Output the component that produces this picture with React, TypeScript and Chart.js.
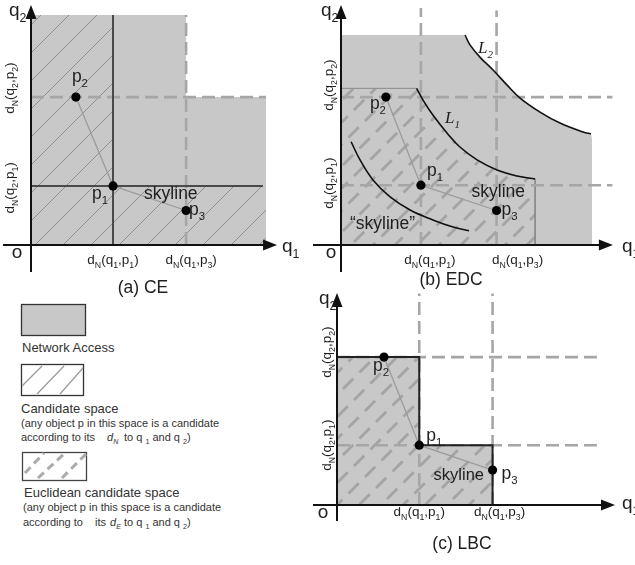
import React, { useEffect, useRef } from 'react';
import { Chart, registerables } from 'chart.js';

Chart.register(...registerables);

const SANS = '"Liberation Sans", Arial, Helvetica, sans-serif';
const SERIF = '"Liberation Serif", "Times New Roman", serif';

// ---------- data (diagram units) ----------
const POINT_NAMES = ['p_1', 'p_2', 'p_3'];
// (a) CE
const CE_X = [3.49, 1.91, 6.6];
const CE_Y = [2.57, 6.43, 1.5];
const CE_REGION = [10, 10];
// (b) EDC
const EDC_X = [3.4, 1.91, 6.62];
const EDC_Y = [2.6, 6.43, 1.5];
const EDC_REGION = [10.68, 9.13];
const EDC_L2_X = [5.28, 5.49, 5.91, 6.47, 7.06, 7.62, 8.47, 9.32, 10.3, 10.64];
const EDC_L2_Y = [9.13, 8.7, 8.17, 7.61, 6.96, 6.39, 5.78, 5.3, 4.91, 4.83];
const EDC_L1_X = [3.22, 3.49, 3.91, 4.51, 5.06, 5.79, 6.64, 7.49, 8.26];
const EDC_L1_Y = [6.81, 6.3, 5.65, 4.87, 4.26, 3.7, 3.26, 3.0, 2.87];
const EDC_SKY_X = [0.43, 0.81, 1.36, 2.09, 2.94, 3.91, 4.77, 5.45];
const EDC_SKY_Y = [4.49, 3.7, 2.83, 2.09, 1.52, 1.09, 0.78, 0.62];
// (c) LBC
const LBC_X = [3.5, 2.0, 6.62];
const LBC_Y = [2.6, 6.43, 1.52];

const X_TICKS = ['d_N(q_1,p_1)', 'd_N(q_1,p_3)'];
const Y_TICKS = ['d_N(q_2,p_1)', 'd_N(q_2,p_2)'];
const CAPTIONS = ['(a) CE', '(b) EDC', '(c) LBC'];
const CURVE_NAMES = ['L_1', 'L_2'];
const SKY_TEXT = ['skyline', '\u201cskyline\u201d'];
const LEGEND_TITLES = ['Network Access', 'Candidate space', 'Euclidean candidate space'];

// ---------- styles ----------
const GRAY = '#c8c8c8';
const DASHC = '#a6a6a6';
const DASH = [13, 6];
const TXT = '#1e1e1e';
const TICK = 13.5;

type Run = { t: string; sub: boolean };
function parse(s: string): Run[] {
  const out: Run[] = [];
  let buf = '';
  for (let i = 0; i < s.length; i++) {
    if (s[i] === '_' && i + 1 < s.length) {
      if (buf) { out.push({ t: buf, sub: false }); buf = ''; }
      out.push({ t: s[i + 1], sub: true });
      i++;
    } else buf += s[i];
  }
  if (buf) out.push({ t: buf, sub: false });
  return out;
}

interface Lbl {
  s: string; x: number; y: number; dx: number; dy: number; size: number;
  align?: 'left' | 'center'; rot?: boolean; it?: boolean; serif?: boolean;
}

function drawLbl(chart: any, L: Lbl) {
  const ctx: CanvasRenderingContext2D = chart.ctx;
  const px = chart.scales.x.getPixelForValue(L.x) + L.dx;
  const py = chart.scales.y.getPixelForValue(L.y) + L.dy;
  const fam = L.serif ? SERIF : SANS;
  const font = (sz: number) => `${L.it ? 'italic ' : ''}${sz}px ${fam}`;
  const runs = parse(L.s);
  const subSize = L.size * 0.65;
  ctx.save();
  ctx.translate(px, py);
  if (L.rot) ctx.rotate(-Math.PI / 2);
  ctx.fillStyle = TXT;
  ctx.textBaseline = 'alphabetic';
  ctx.textAlign = 'left';
  let total = 0;
  const widths = runs.map((r) => {
    ctx.font = font(r.sub ? subSize : L.size);
    const w = ctx.measureText(r.t).width;
    total += w;
    return w;
  });
  let cx = (L.align ?? 'left') === 'center' ? -total / 2 : 0;
  runs.forEach((r, i) => {
    ctx.font = font(r.sub ? subSize : L.size);
    ctx.fillText(r.t, cx, r.sub ? L.size * 0.3 : 0);
    cx += widths[i];
  });
  ctx.restore();
}

interface Decor { xEnd: number; yEnd: number; xBack: number; yBack: number; labels: Lbl[] }

function decorPlugin(cfg: Decor) {
  return {
    id: 'decor',
    afterDatasetsDraw(chart: any) {
      const ctx: CanvasRenderingContext2D = chart.ctx;
      const xs = chart.scales.x, ys = chart.scales.y;
      const ox = xs.getPixelForValue(0), oy = ys.getPixelForValue(0);
      const ex = xs.getPixelForValue(cfg.xEnd), ey = ys.getPixelForValue(cfg.yEnd);
      ctx.save();
      ctx.strokeStyle = '#111';
      ctx.fillStyle = '#111';
      ctx.lineWidth = 2;
      ctx.setLineDash([]);
      ctx.beginPath(); ctx.moveTo(ox - cfg.xBack, oy); ctx.lineTo(ex - 10, oy); ctx.stroke();
      ctx.beginPath(); ctx.moveTo(ox, oy + cfg.yBack); ctx.lineTo(ox, ey + 10); ctx.stroke();
      ctx.beginPath(); ctx.moveTo(ex, oy); ctx.lineTo(ex - 14, oy - 5.5); ctx.lineTo(ex - 14, oy + 5.5); ctx.closePath(); ctx.fill();
      ctx.beginPath(); ctx.moveTo(ox, ey); ctx.lineTo(ox - 5.5, ey + 14); ctx.lineTo(ox + 5.5, ey + 14); ctx.closePath(); ctx.fill();
      ctx.restore();
      cfg.labels.forEach((l) => drawLbl(chart, l));
    },
  };
}

function hatchSolid(): CanvasPattern {
  const S = 28;
  const c = document.createElement('canvas');
  c.width = S; c.height = S;
  const g = c.getContext('2d')!;
  g.strokeStyle = '#8f8f8f';
  g.lineWidth = 1;
  for (const k of [-S, 0, S, 2 * S]) {
    g.beginPath(); g.moveTo(k + 10, -10); g.lineTo(k - S - 10, S + 10); g.stroke();
  }
  return g.createPattern(c, 'repeat')!;
}

function hatchDashed(): CanvasPattern {
  const S = 66, step = 22;
  const P = S / Math.SQRT2 / 2;
  const c = document.createElement('canvas');
  c.width = S; c.height = S;
  const g = c.getContext('2d')!;
  g.strokeStyle = '#a4a4a4';
  g.lineWidth = 2.8;
  g.lineCap = 'butt';
  g.setLineDash([P * 0.62, P * 0.38]);
  for (let k = -S; k <= 2 * S; k += step) {
    const x0 = k - S - 10, y0 = S + 10;
    const t = (x0 - y0) / Math.SQRT2;
    g.lineDashOffset = ((t % P) + P) % P;
    g.beginPath(); g.moveTo(x0, y0); g.lineTo(k + 10, -10); g.stroke();
  }
  return g.createPattern(c, 'repeat')!;
}

const pts = (xs: number[], ys: number[]) => xs.map((x, i) => ({ x, y: ys[i] }));
const seg = (x0: number, y0: number, x1: number, y1: number) => [{ x: x0, y: y0 }, { x: x1, y: y1 }];
function ds(data: any[], o: any = {}) {
  return {
    data, pointRadius: 0, borderWidth: 0, borderColor: 'rgba(0,0,0,0)',
    backgroundColor: 'rgba(0,0,0,0)', fill: false, tension: 0, clip: false, ...o,
  };
}
const dashed = (data: any[]) => ds(data, { borderColor: DASHC, borderWidth: 2.6, borderDash: DASH, order: 8 });
const pointsDs = (xs: number[], ys: number[]) =>
  ds(pts(xs, ys), { showLine: false, pointRadius: 4.6, pointBackgroundColor: '#000', pointBorderWidth: 0, order: 1 });
const skyPath = (xs: number[], ys: number[]) =>
  ds(pts([xs[1], xs[0], xs[2]], [ys[1], ys[0], ys[2]]), { borderColor: '#9c9c9c', borderWidth: 1.3, order: 3 });

function makeConfig(datasets: any[], xMax: number, yMax: number, padding: any, decor: Decor) {
  return {
    type: 'line',
    data: { datasets },
    options: {
      responsive: false, animation: false, events: [],
      layout: { padding },
      plugins: { legend: { display: false }, tooltip: { enabled: false }, title: { display: false } },
      scales: {
        x: { type: 'linear', display: false, min: 0, max: xMax },
        y: { type: 'linear', display: false, min: 0, max: yMax },
      },
    },
    plugins: [decorPlugin(decor)],
  } as any;
}

const pLabel = (i: number, xs: number[], ys: number[], dx: number, dy: number): Lbl =>
  ({ s: POINT_NAMES[i], x: xs[i], y: ys[i], dx, dy, size: 17.5 });

function buildCE() {
  const [R0, R1] = CE_REGION;
  const X = CE_X, Y = CE_Y;
  const datasets = [
    ds([{ x: 0, y: R1 }, { x: X[2], y: R1 }, { x: X[2], y: Y[1] }, { x: R0, y: Y[1] }, { x: R0, y: 0 }],
      { fill: 'origin', backgroundColor: GRAY, order: 10 }),
    ds([{ x: 0, y: R1 }, { x: X[0], y: R1 }, { x: X[0], y: Y[0] }, { x: R0, y: Y[0] }, { x: R0, y: 0 }],
      { fill: 'origin', backgroundColor: hatchSolid(), order: 9 }),
    dashed(seg(0, Y[1], R0, Y[1])),
    dashed(seg(X[2], 0, X[2], R1)),
    ds(seg(X[0], 0, X[0], R1), { borderColor: '#4a4a4a', borderWidth: 2, order: 7 }),
    ds(seg(0, Y[0], R0 - 0.13, Y[0]), { borderColor: '#4a4a4a', borderWidth: 2, order: 7 }),
    skyPath(X, Y),
    pointsDs(X, Y),
  ];
  const labels: Lbl[] = [
    { s: 'o', x: 0, y: 0, dx: -14, dy: 13, size: 19, align: 'center' },
    { s: 'q_2', x: 0, y: 0, dx: -22, dy: -229, size: 19 },
    { s: 'q_1', x: 0, y: 0, dx: 251, dy: 7, size: 19 },
    { s: X_TICKS[0], x: X[0], y: 0, dx: 0, dy: 19, size: TICK, align: 'center' },
    { s: X_TICKS[1], x: X[2], y: 0, dx: 5, dy: 19, size: TICK, align: 'center' },
    { s: Y_TICKS[1], x: 0, y: Y[1], dx: -17, dy: -9, size: TICK, align: 'center', rot: true },
    { s: Y_TICKS[0], x: 0, y: Y[0], dx: -17, dy: 2, size: TICK, align: 'center', rot: true },
    pLabel(1, X, Y, -4, -15),
    pLabel(0, X, Y, -21, 13),
    pLabel(2, X, Y, 3, 4),
    { s: SKY_TEXT[0], x: X[2], y: Y[2], dx: -42, dy: -12, size: 17.5 },
    { s: CAPTIONS[0], x: 0, y: 0, dx: 112, dy: 48, size: 17.5, align: 'center' },
  ];
  return makeConfig(datasets, 10, 10, { left: 31, right: 52, top: 15, bottom: 55 },
    { xEnd: 10.47, yEnd: 10.43, xBack: 28, yBack: 27, labels });
}

function buildEDC() {
  const [R0, R1] = EDC_REGION;
  const X = EDC_X, Y = EDC_Y;
  const l2 = pts(EDC_L2_X, EDC_L2_Y);
  const l1 = pts(EDC_L1_X, EDC_L1_Y);
  const grayPoly = [{ x: 0, y: R1 }, ...l2, { x: R0, y: EDC_L2_Y[EDC_L2_Y.length - 1] - 0.2 }, { x: R0, y: 0 }];
  const hatchPoly = [{ x: 0, y: EDC_L1_Y[0] }, ...l1, { x: EDC_L1_X[EDC_L1_X.length - 1], y: 0 }];
  const datasets = [
    ds(grayPoly, { fill: 'origin', backgroundColor: GRAY, order: 10 }),
    ds(hatchPoly, { fill: 'origin', backgroundColor: hatchDashed(), borderColor: '#8a8a8a', borderWidth: 1, order: 9 }),
    dashed(seg(0, Y[1], 11.55, Y[1])),
    dashed(seg(0, Y[0], 11.55, Y[0])),
    dashed(seg(X[0], 0, X[0], 10.3)),
    dashed(seg(X[2], 0, X[2], 10.2)),
    ds(l2, { borderColor: '#111', borderWidth: 1.6, tension: 0.4, order: 5 }),
    ds(l1, { borderColor: '#111', borderWidth: 1.6, tension: 0.4, order: 5 }),
    ds(pts(EDC_SKY_X, EDC_SKY_Y), { borderColor: '#111', borderWidth: 1.6, tension: 0.4, order: 5 }),
    skyPath(X, Y),
    pointsDs(X, Y),
  ];
  const labels: Lbl[] = [
    { s: 'o', x: 0, y: 0, dx: -10, dy: 13, size: 19, align: 'center' },
    { s: 'q_2', x: 0, y: 0, dx: -20, dy: -229, size: 19 },
    { s: 'q_1', x: 0, y: 0, dx: 281, dy: 7, size: 19 },
    { s: X_TICKS[0], x: X[0], y: 0, dx: 9, dy: 19, size: TICK, align: 'center' },
    { s: X_TICKS[1], x: X[2], y: 0, dx: 21, dy: 19, size: TICK, align: 'center' },
    { s: Y_TICKS[1], x: 0, y: Y[1], dx: -8, dy: -12, size: TICK, align: 'center', rot: true },
    { s: Y_TICKS[0], x: 0, y: Y[0], dx: -8, dy: -2, size: TICK, align: 'center', rot: true },
    pLabel(1, X, Y, -16, 12),
    pLabel(0, X, Y, 6, -9),
    pLabel(2, X, Y, 5, 4),
    { s: SKY_TEXT[0], x: X[2], y: Y[2], dx: -25, dy: -14, size: 17.5 },
    { s: SKY_TEXT[1], x: 0, y: 0, dx: 9, dy: -16, size: 17.5 },
    { s: CURVE_NAMES[0], x: 0, y: 0, dx: 104, dy: -122, size: 17, it: true, serif: true },
    { s: CURVE_NAMES[1], x: 0, y: 0, dx: 137, dy: -192, size: 17, it: true, serif: true },
    { s: CAPTIONS[1], x: 0, y: 0, dx: 110, dy: 40, size: 17.5, align: 'center' },
  ];
  return makeConfig(datasets, 11, 10, { left: 31, right: 35.5, top: 15, bottom: 55 },
    { xEnd: 11.57, yEnd: 10.43, xBack: 28, yBack: 27, labels });
}

function buildLBC() {
  const X = LBC_X, Y = LBC_Y;
  const poly = [{ x: 0, y: Y[1] }, { x: X[0], y: Y[1] }, { x: X[0], y: Y[0] }, { x: X[2], y: Y[0] }, { x: X[2], y: 0 }];
  const datasets = [
    ds(poly, { fill: 'origin', backgroundColor: GRAY, order: 10 }),
    ds(poly, { fill: 'origin', backgroundColor: hatchDashed(), order: 9 }),
    dashed(seg(0, Y[1], 11.06, Y[1])),
    dashed(seg(0, Y[0], 11.06, Y[0])),
    dashed(seg(X[0], 0, X[0], 9.2)),
    dashed(seg(X[2], 0, X[2], 9.2)),
    ds(poly, { borderColor: '#222', borderWidth: 2, order: 6 }),
    skyPath(X, Y),
    pointsDs(X, Y),
  ];
  const labels: Lbl[] = [
    { s: 'o', x: 0, y: 0, dx: -14, dy: 13, size: 19, align: 'center' },
    { s: 'q_2', x: 0, y: 0, dx: -18, dy: -201, size: 19 },
    { s: 'q_1', x: 0, y: 0, dx: 285, dy: 4, size: 19 },
    { s: X_TICKS[0], x: X[0], y: 0, dx: 0, dy: 11, size: TICK, align: 'center' },
    { s: X_TICKS[1], x: X[2], y: 0, dx: 7, dy: 11, size: TICK, align: 'center' },
    { s: Y_TICKS[1], x: 0, y: Y[1], dx: -6, dy: -5, size: TICK, align: 'center', rot: true },
    { s: Y_TICKS[0], x: 0, y: Y[0], dx: -6, dy: 0, size: TICK, align: 'center', rot: true },
    pLabel(1, X, Y, -11, 14),
    pLabel(0, X, Y, 7, -4),
    pLabel(2, X, Y, 9, 9),
    { s: SKY_TEXT[0], x: X[2], y: Y[2], dx: -59, dy: 10, size: 16.5 },
    { s: CAPTIONS[2], x: 0, y: 0, dx: 125, dy: 44, size: 17.5, align: 'center' },
  ];
  return makeConfig(datasets, 11, 9, { left: 27, right: 39.5, top: 8, bottom: 60 },
    { xEnd: 11.83, yEnd: 9.22, xBack: 24, yBack: 16, labels });
}

function Panel({ left, top, width, height, build }: { left: number; top: number; width: number; height: number; build: () => any }) {
  const ref = useRef<HTMLCanvasElement>(null);
  useEffect(() => {
    const chart = new Chart(ref.current!, build());
    return () => chart.destroy();
  }, []);
  return (
    <canvas ref={ref} width={width} height={height}
      style={{ position: 'absolute', left, top, width, height }} />
  );
}

function SvgRich({ x, y, s, size, italic }: { x: number; y: number; s: string; size: number; italic?: boolean }) {
  const runs = parse(s);
  const drop = size * 0.3;
  let cur = 0;
  return (
    <text x={x} y={y} fontSize={size} fill="#333" fontStyle={italic ? 'italic' : 'normal'}>
      {runs.map((r, i) => {
        const target = r.sub ? drop : 0;
        const dy = target - cur;
        cur = target;
        return (
          <tspan key={i} dy={dy} fontSize={r.sub ? size * 0.65 : size}>{r.t}</tspan>
        );
      })}
    </text>
  );
}

function Legend() {
  return (
    <svg width={320} height={565} style={{ position: 'absolute', left: 0, top: 0 }} fontFamily={SANS}>
      <rect x={21.5} y={304.5} width={64} height={31} fill={GRAY} stroke="#333" strokeWidth={1.3} />
      <text x={22} y={352} fontSize={13} fill="#333">{LEGEND_TITLES[0]}</text>

      <rect x={21.5} y={364.5} width={62} height={31} fill="#fff" stroke="#333" strokeWidth={1.3} />
      <g stroke="#999" strokeWidth={1.2}>
        <line x1={22} y1={386} x2={42} y2={366} />
        <line x1={37} y1={394} x2={64} y2={366} />
        <line x1={60} y1={394} x2={83} y2={368} />
      </g>
      <text x={21} y={413} fontSize={13} fill="#333">{LEGEND_TITLES[1]}</text>
      <text x={21} y={427} fontSize={11} fill="#333">(any object p in this space is a candidate</text>
      <SvgRich x={21} y={441} s="according to its" size={11} />
      <SvgRich x={107} y={441} s="d_N" size={11} italic />
      <SvgRich x={124} y={441} s="to q _1 and q _2)" size={11} />

      <rect x={22.5} y={452.5} width={64} height={28} fill="#fff" stroke="#444" strokeWidth={1.3} />
      <g stroke="#aaa" strokeWidth={3} strokeDasharray="8 5">
        <line x1={25} y1={473} x2={44} y2={453} />
        <line x1={38} y1={478} x2={65} y2={453} />
        <line x1={62} y1={478} x2={86} y2={454} />
      </g>
      <text x={24} y={497} fontSize={13} fill="#333">{LEGEND_TITLES[2]}</text>
      <text x={23} y={511} fontSize={11} fill="#333">(any object p in this space is a candidate</text>
      <SvgRich x={23} y={526} s="according to" size={11} />
      <SvgRich x={95} y={526} s="its" size={11} />
      <SvgRich x={110} y={526} s="d_E" size={11} italic />
      <SvgRich x={124} y={526} s="to q _1 and q _2)" size={11} />
    </svg>
  );
}

export default function App() {
  return (
    <div style={{ position: 'absolute', left: 0, top: 0, width: 635, height: 565, background: '#fff', overflow: 'hidden' }}>
      <Legend />
      <Panel left={0} top={0} width={318} height={300} build={buildCE} />
      <Panel left={310} top={0} width={325} height={300} build={buildEDC} />
      <Panel left={310} top={290} width={325} height={275} build={buildLBC} />
    </div>
  );
}
